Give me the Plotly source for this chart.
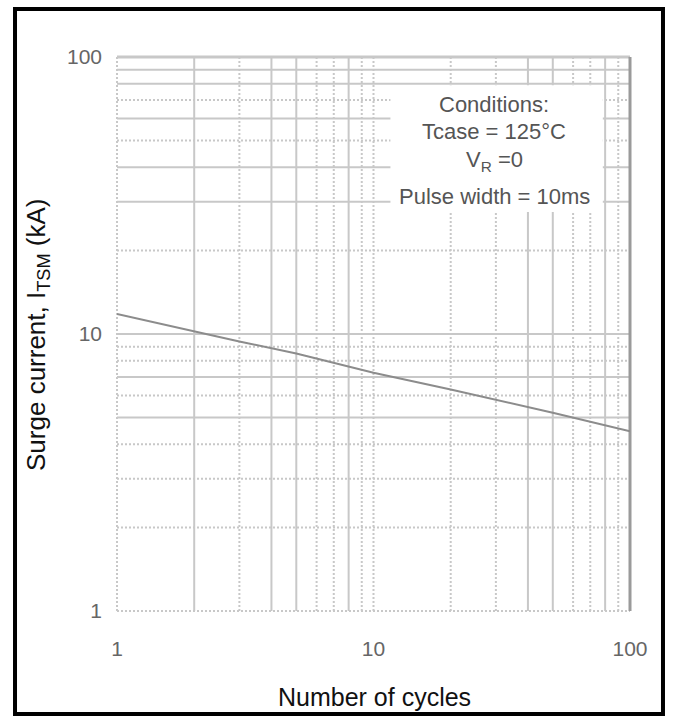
import plotly.graph_objects as go

# ---- data ----
cycles = [1, 2, 3, 5, 10, 20, 30, 50, 100]
surge_kA = [11.8, 10.2, 9.4, 8.5, 7.25, 6.3, 5.8, 5.2, 4.45]

x_tickvals = [1, 10, 100]
x_ticktext = ["1", "10", "100"]
y_tickvals = [1, 10, 100]
y_ticktext = ["1", "10", "100"]

x_grid_solid = [2, 4, 5, 8, 40, 50, 80]
x_grid_dotted = [3, 6, 7, 9, 10, 20, 30, 60, 70, 90]
y_grid_solid = [5, 7, 10, 30, 40, 60, 80, 90]
y_grid_dotted = [2, 3, 4, 6, 8, 9, 20, 50, 70]

conditions = ["Conditions:", "Tcase = 125°C", "V<sub>R</sub> =0", "Pulse width = 10ms"]
cond_y = [0.915, 0.865, 0.812, 0.749]

x_title = "Number of cycles"
y_title = "Surge current, I<sub>TSM</sub> (kA)"

GRID = "#c8c8c8"
FONT = "Liberation Sans, Arial, sans-serif"

fig = go.Figure()
fig.add_trace(go.Scatter(x=cycles, y=surge_kA, mode="lines",
                         line=dict(color="#8c8c8c", width=2), showlegend=False,
                         hoverinfo="skip"))

shapes = []
for v in x_grid_solid:
    shapes.append(dict(type="line", xref="x", yref="paper", x0=v, x1=v, y0=0, y1=1,
                       line=dict(color=GRID, width=2), layer="below"))
for v in x_grid_dotted:
    shapes.append(dict(type="line", xref="x", yref="paper", x0=v, x1=v, y0=0, y1=1,
                       line=dict(color=GRID, width=2, dash="2px,2px"), layer="below"))
for v in y_grid_solid:
    shapes.append(dict(type="line", xref="paper", yref="y", x0=0, x1=1, y0=v, y1=v,
                       line=dict(color=GRID, width=2), layer="below"))
for v in y_grid_dotted:
    shapes.append(dict(type="line", xref="paper", yref="y", x0=0, x1=1, y0=v, y1=v,
                       line=dict(color=GRID, width=2, dash="2px,2px"), layer="below"))
# plot frame
shapes.append(dict(type="line", xref="paper", yref="paper", x0=0, x1=0, y0=0, y1=1,
                   line=dict(color=GRID, width=2, dash="2px,2px"), layer="below"))
shapes.append(dict(type="line", xref="paper", yref="paper", x0=0, x1=1, y0=0, y1=0,
                   line=dict(color=GRID, width=2, dash="2px,2px"), layer="below"))
shapes.append(dict(type="line", xref="paper", yref="paper", x0=0, x1=1, y0=1, y1=1,
                   line=dict(color=GRID, width=3), layer="below"))
shapes.append(dict(type="line", xref="paper", yref="paper", x0=1, x1=1, y0=0, y1=1,
                   line=dict(color="#9a9a9a", width=3), layer="below"))
# white box behind the conditions text
shapes.append(dict(type="rect", xref="paper", yref="paper", x0=0.533, x1=0.947,
                   y0=0.72, y1=0.949, fillcolor="white", line=dict(width=0), layer="below"))
# outer black border
shapes.append(dict(type="rect", xref="paper", yref="paper", x0=-0.1988, x1=1.0643,
                   y0=-0.1859, y1=1.0866, line=dict(color="black", width=4),
                   fillcolor="rgba(0,0,0,0)", layer="above"))

annotations = []
for txt, yy in zip(conditions, cond_y):
    annotations.append(dict(text=txt, xref="paper", yref="paper", x=0.735, y=yy,
                            showarrow=False, xanchor="center", yanchor="middle",
                            font=dict(family=FONT, size=22, color="#555555")))
annotations.append(dict(text=x_title, xref="paper", yref="paper", x=0.502, y=-0.155,
                        showarrow=False, xanchor="center", yanchor="middle",
                        font=dict(family=FONT, size=25, color="#111111")))
annotations.append(dict(text=y_title, xref="paper", yref="paper", x=-0.156, y=0.5,
                        showarrow=False, xanchor="center", yanchor="middle", textangle=-90,
                        font=dict(family=FONT, size=26, color="#111111")))

fig.update_layout(
    width=675, height=720,
    margin=dict(l=117, r=45, t=57, b=109),
    paper_bgcolor="white", plot_bgcolor="white",
    shapes=shapes, annotations=annotations,
    xaxis=dict(type="log", range=[0, 2], showgrid=False, zeroline=False, showline=False,
               tickvals=x_tickvals, ticktext=x_ticktext, ticks="",
               ticklabelstandoff=23,
               tickfont=dict(family=FONT, size=21, color="#666666")),
    yaxis=dict(type="log", range=[0, 2], showgrid=False, zeroline=False, showline=False,
               tickvals=y_tickvals, ticktext=y_ticktext, ticks="",
               ticklabelstandoff=14,
               tickfont=dict(family=FONT, size=21, color="#666666")),
)

fig.write_html("out.html")
